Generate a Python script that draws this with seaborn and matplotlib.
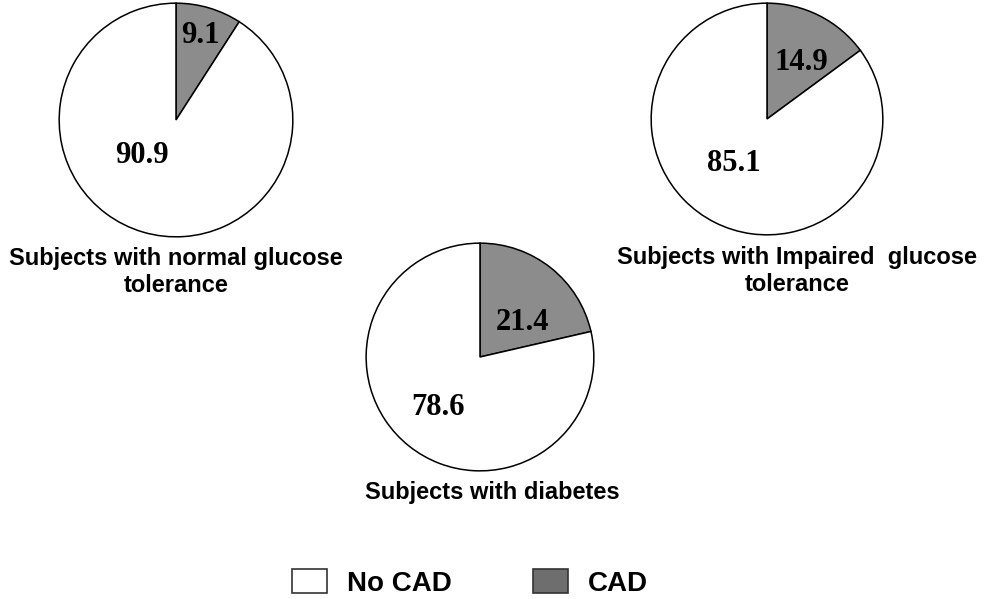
import matplotlib
matplotlib.use("Agg")
import matplotlib.pyplot as plt
from matplotlib.patches import Patch
import seaborn as sns

# Дані: частка пацієнтів з CAD / без CAD, %
GROUPS = [
    "Subjects with normal glucose\ntolerance",
    "Subjects with Impaired  glucose\ntolerance",
    "Subjects with diabetes",
]
CAD = [9.1, 14.9, 21.4]
NO_CAD = [90.9, 85.1, 78.6]
LEGEND_LABELS = ["No CAD", "CAD"]

W, H = 987, 599
# центр (px), радіус (px), позиції підписів у координатах пирога, центр заголовка (px)
PIE_LAYOUT = [
    dict(cx=176, cy=120, r=118, lab=[(0.21, 0.72), (-0.29, -0.30)], title=(176, 272)),
    dict(cx=767, cy=119, r=117, lab=[(0.30, 0.49), (-0.29, -0.38)], title=(797, 271)),
    dict(cx=480, cy=357, r=115, lab=[(0.37, 0.30), (-0.37, -0.44)], title=(492, 493)),
]
PIE_GRAY = "#8c8c8c"
LEG_GRAY = "#6e6e6e"

sns.set_theme(style="white")
plt.rcParams["font.family"] = ["Liberation Sans", "DejaVu Sans"]
plt.rcParams["text.color"] = "black"

fig = plt.figure(figsize=(W / 100, H / 100), dpi=100)
fig.patch.set_facecolor("white")

for i, lay in enumerate(PIE_LAYOUT):
    cx, cy, r = lay["cx"], lay["cy"], lay["r"]
    ax = fig.add_axes([(cx - r) / W, 1 - (cy + r) / H, 2 * r / W, 2 * r / H])
    ax.pie(
        [CAD[i], NO_CAD[i]],
        colors=[PIE_GRAY, "white"],
        startangle=90,
        counterclock=False,
        radius=1,
        wedgeprops=dict(edgecolor="black", linewidth=1.1),
    )
    ax.set_xlim(-1.01, 1.01)
    ax.set_ylim(-1.01, 1.01)
    ax.set_aspect("auto")
    ax.axis("off")
    for val, (x, y) in zip([CAD[i], NO_CAD[i]], lay["lab"]):
        ax.text(x, y, f"{val:.1f}", ha="center", va="center", color="black",
                fontsize=22, fontweight="bold", family="Liberation Serif")
    tx, ty = lay["title"]
    fig.text(tx / W, 1 - ty / H, GROUPS[i], ha="center", va="center",
             color="black", fontsize=17, fontweight="bold", linespacing=1.2)

handles = [
    Patch(facecolor="white", edgecolor="#333333", linewidth=1.2),
    Patch(facecolor=LEG_GRAY, edgecolor="#333333", linewidth=1.2),
]
leg = fig.legend(
    handles, LEGEND_LABELS,
    loc="center", bbox_to_anchor=(470 / W, 1 - 583 / H),
    ncol=2, frameon=False,
    prop=dict(size=20, weight="bold"),
    handlelength=1.26, handleheight=0.94,
    handletextpad=0.72, columnspacing=2.9,
)
for t in leg.get_texts():
    t.set_color("black")

fig.savefig("out.png", dpi=100, facecolor="white")
